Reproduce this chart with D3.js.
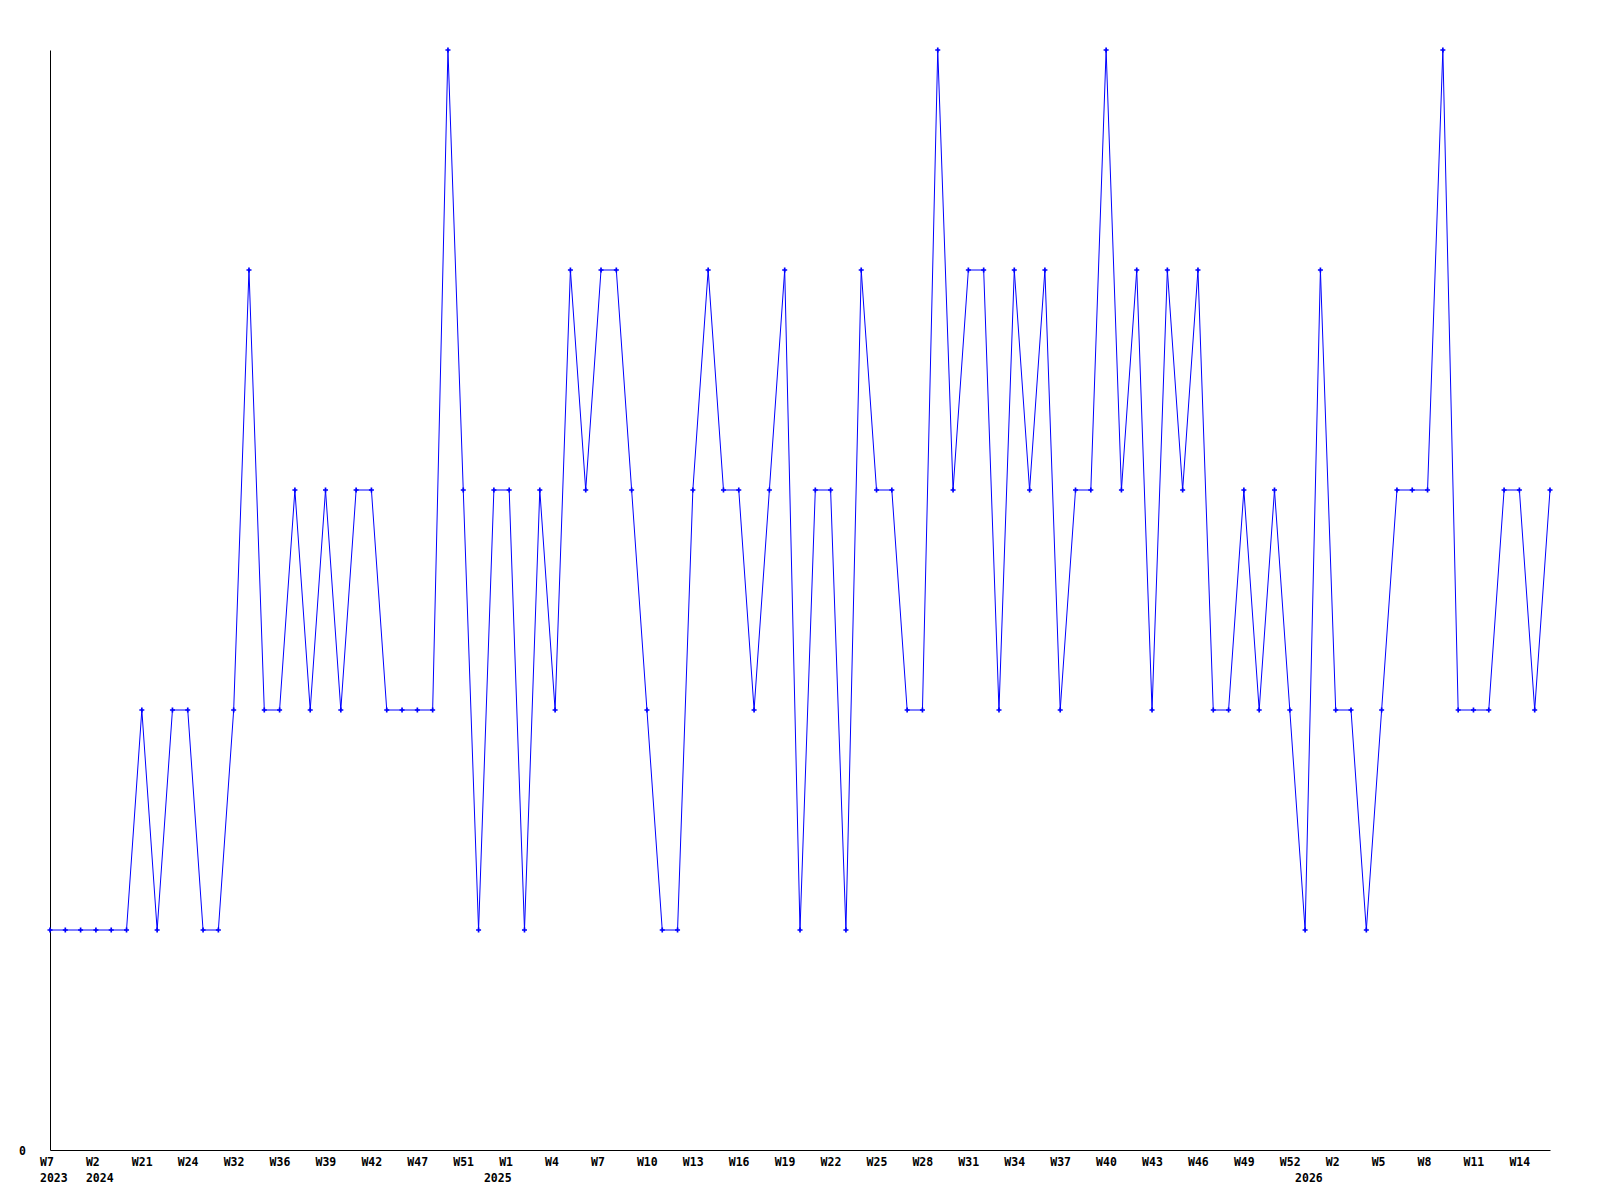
<!DOCTYPE html>
<html>
<head>
<meta charset="utf-8">
<script src="https://cdn.jsdelivr.net/npm/d3@7"></script>
<style>
  html, body { margin: 0; padding: 0; background: #fff; }
  svg { display: block; }
</style>
</head>
<body>
<svg id="main"></svg>
<script>
const width = 1600;
const height = 1200;
const position = {
    left: 50,
    top: 50,
    right: 50,
    bottom: 50
};
const labelFont = '"DejaVu Sans Mono", monospace';

// one value per sample
const values = [
    1, 1, 1, 1, 1, 1, 2, 1, 2, 2,
    1, 1, 2, 4, 2, 2, 3, 2, 3, 2,
    3, 3, 2, 2, 2, 2, 5, 3, 1, 3,
    3, 1, 3, 2, 4, 3, 4, 4, 3, 2,
    1, 1, 3, 4, 3, 3, 2, 3, 4, 1,
    3, 3, 1, 4, 3, 3, 2, 2, 5, 3,
    4, 4, 2, 4, 3, 4, 2, 3, 3, 5,
    3, 4, 2, 4, 3, 4, 2, 2, 3, 2,
    3, 2, 1, 4, 2, 2, 1, 2, 3, 3,
    3, 5, 2, 2, 2, 3, 3, 2, 3
];
// week label on every third sample
const weekLabels = [
    'W7', 'W2', 'W21', 'W24', 'W32', 'W36', 'W39', 'W42', 'W47', 'W51', 'W1',
    'W4', 'W7', 'W10', 'W13', 'W16', 'W19', 'W22', 'W25', 'W28', 'W31', 'W34',
    'W37', 'W40', 'W43', 'W46', 'W49', 'W52', 'W2', 'W5', 'W8', 'W11', 'W14'
];
const yearIndex = [0, 3, 29, 82];
const yearLabels = ['2023', '2024', '2025', '2026'];
const yTicks = [0];

const innerWidth = width - position.left - position.right;
const innerHeight = height - position.top - position.bottom;

const mainSvg = d3.select('#main').attr('width', width).attr('height', height);
const mainGroup = mainSvg
    .append('g')
    .attr('transform', `translate(${position.left}, ${position.top})`);

const xScale = d3
    .scalePoint()
    .domain(d3.range(values.length))
    .range([0, innerWidth]);
const yScale = d3
    .scaleLinear()
    .domain([0, d3.max(values)])
    .range([innerHeight, 0]);

// shared look for the axis texts
function styleAxis(g) {
    g.attr('font-family', labelFont)
        .attr('font-size', 11.5)
        .attr('font-weight', 'bold');
    g.selectAll('text').attr('fill', '#000');
}

// x axis: week labels (left edge a little before the sample)
const weekTickIndex = weekLabels.map((d, i) => i * 3);
const xAxis = d3.axisBottom(xScale)
    .tickValues(weekTickIndex)
    .tickFormat((d, i) => weekLabels[i])
    .tickSize(0)
    .tickSizeOuter(0);
const xAxisG = mainGroup
    .append('g')
    .attr('class', 'x-axis')
    .attr('transform', `translate(0,${innerHeight})`)
    .call(xAxis)
    .call(styleAxis);
xAxisG.select('.domain').attr('stroke', '#000').attr('stroke-width', 1);
xAxisG.selectAll('text')
    .attr('text-anchor', 'start')
    .attr('x', -10.5)
    .attr('y', 16)
    .attr('dy', null);

// x axis: year labels
const yearAxis = d3.axisBottom(xScale)
    .tickValues(yearIndex)
    .tickFormat((d, i) => yearLabels[i])
    .tickSize(0);
const yearG = mainGroup
    .append('g')
    .attr('class', 'year-axis')
    .attr('transform', `translate(0,${innerHeight})`)
    .call(yearAxis)
    .call(styleAxis);
yearG.select('.domain').remove();
yearG.selectAll('text')
    .attr('text-anchor', 'start')
    .attr('x', -10.5)
    .attr('y', 31.5)
    .attr('dy', null);

// y axis
const yAxis = d3.axisLeft(yScale)
    .tickValues(yTicks)
    .tickFormat(d3.format('d'))
    .tickSize(0)
    .tickSizeOuter(0)
    .tickPadding(24);
const yAxisG = mainGroup.append('g').attr('class', 'y-axis').call(yAxis).call(styleAxis);
yAxisG.select('.domain').attr('stroke', '#000').attr('stroke-width', 1);
yAxisG.selectAll('text').attr('dy', null).attr('y', 4.5);

// line
const line = d3.line()
    .x((d, i) => xScale(i))
    .y(d => yScale(d));
mainGroup
    .append('path')
    .datum(values)
    .attr('fill', 'none')
    .attr('stroke', '#0000ff')
    .attr('stroke-width', 1)
    .attr('d', line);

// markers
mainGroup
    .selectAll('.marker')
    .data(values)
    .join('path')
    .attr('class', 'marker')
    .attr('fill', '#0000ff')
    .attr('d', d3.symbol().type(d3.symbolCross).size(14))
    .attr('transform', (d, i) => `translate(${xScale(i)}, ${yScale(d)})`);
</script>
</body>
</html>
